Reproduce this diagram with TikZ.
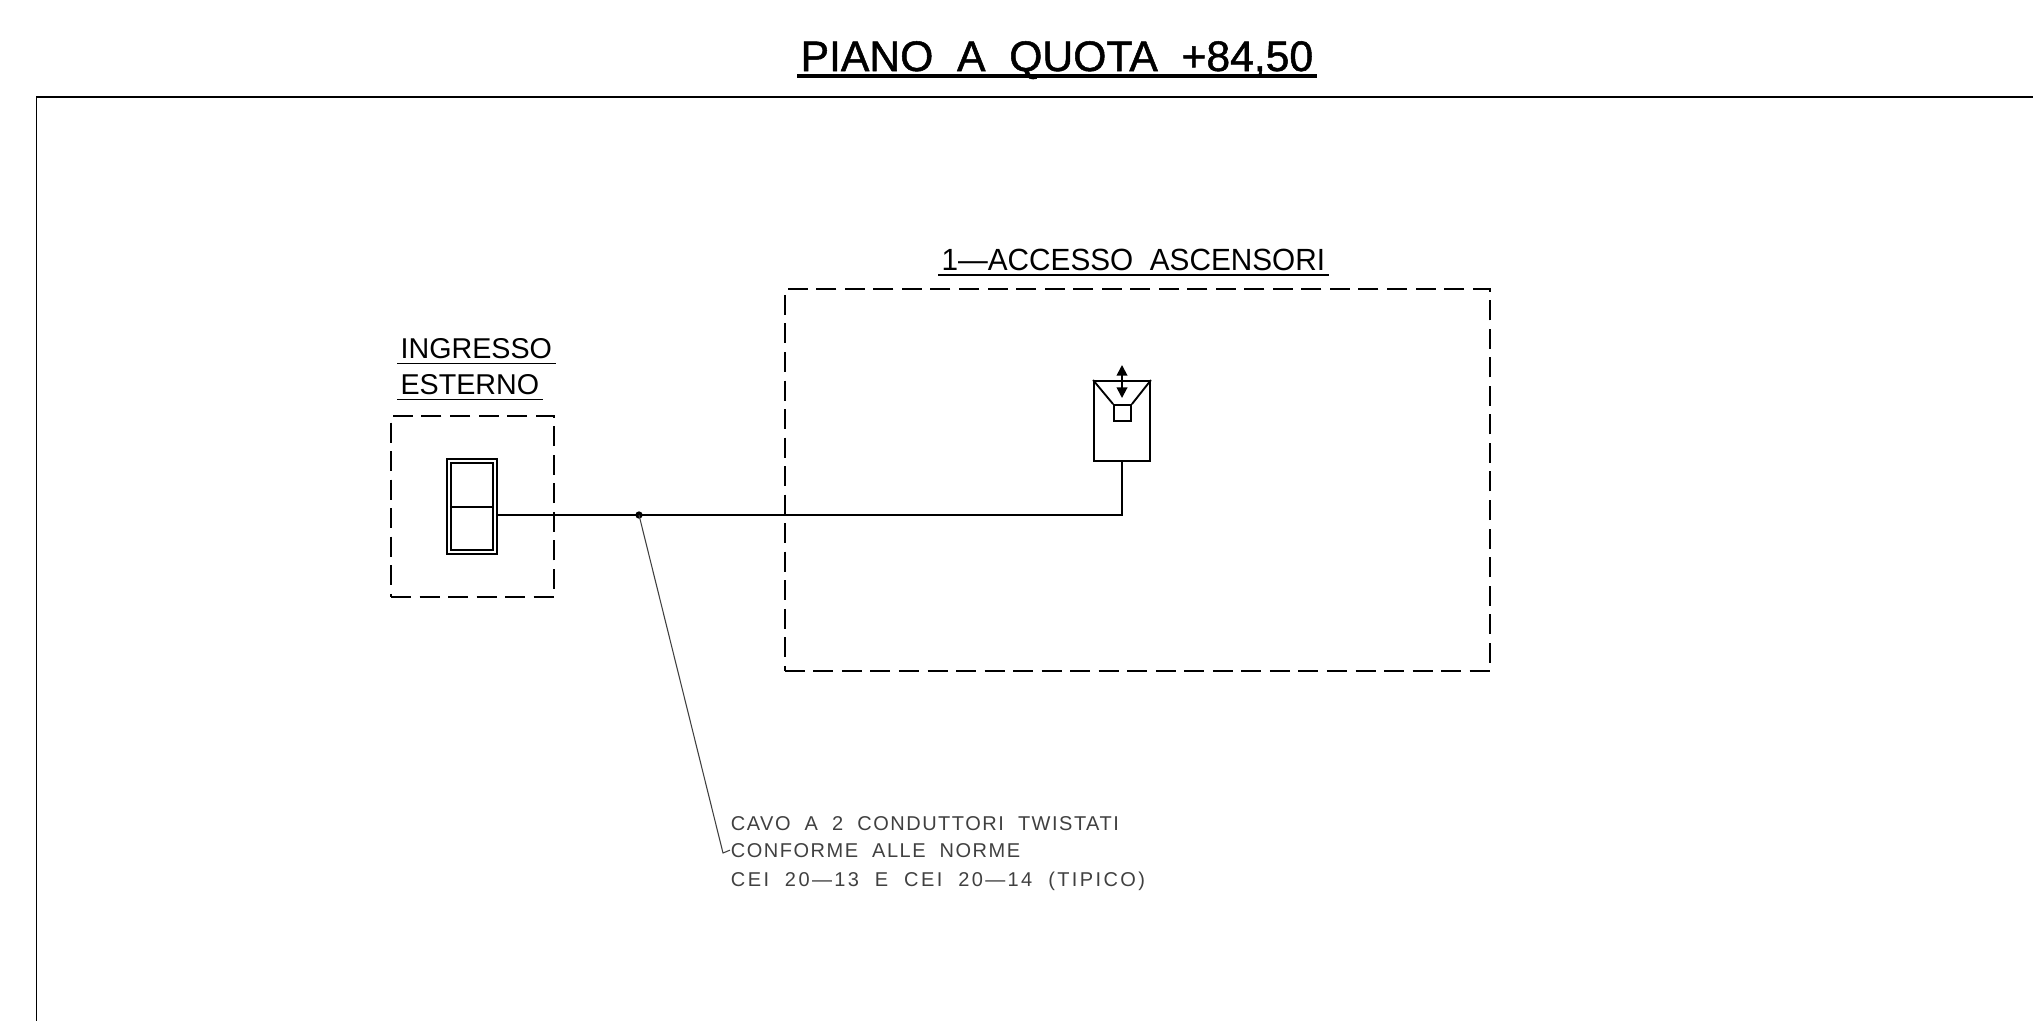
\documentclass[tikz,border=0pt]{standalone}
\usepackage{fontspec}
\setmainfont{Liberation Sans}
\newfontfamily\titlefont{Liberation Sans}[FakeBold=1.2]
\newfontfamily\roomfont{Liberation Sans}[FakeStretch=0.97]
\newfontfamily\notefont{Liberation Sans}[LetterSpace=7.5]
\newfontfamily\notewide{Liberation Sans}[LetterSpace=12]
\usepackage{xcolor}
\usetikzlibrary{positioning, arrows.meta}
\definecolor{leadgray}{gray}{0.25}
\tikzset{
  dashbox/.style={draw, dash pattern=on 15pt off 6.4pt, line width=1.4pt, inner sep=0pt},
  solidbox/.style={draw, line width=1.4pt, inner sep=0pt},
  heading/.style={anchor=base west, inner xsep=2pt, inner ysep=3pt, text depth=0pt},
  notetext/.style={anchor=base west, inner sep=0pt, text=leadgray, font=\notefont\fontsize{15}{15}\selectfont},
}
\begin{document}
\begin{tikzpicture}[x=0.75pt, y=-0.75pt, line width=1.4pt]
  \useasboundingbox (0,0) rectangle (2033,1021);
  % sheet frame
  \draw (2033,97) -- (36.5,97) -- (36.5,1021);
  % titles
  \node[heading, font=\titlefont\fontsize{32}{32}\selectfont] (title) at (797,71) {PIANO~~A~~QUOTA~~+84,50};
  \draw[line width=2.6pt] (title.south west) -- (title.south east);
  \node[heading, font=\roomfont\fontsize{23}{23}\selectfont] (room) at (938,270) {1—ACCESSO~~ASCENSORI};
  \draw (room.south west) -- (room.south east);
  \node[heading, font=\fontsize{21.5}{22}\selectfont] (entry1) at (397,358.5) {INGRESSO};
  \draw (entry1.south west) -- (entry1.south east);
  \node[heading, font=\fontsize{21.5}{22}\selectfont] (entry2) at (397,394.5) {ESTERNO};
  \draw (entry2.south west) -- (entry2.south east);
  % zones
  \node[dashbox, minimum width=122.25pt, minimum height=135.75pt] (entryzone) at (472.5,506.5) {};
  \node[dashbox, minimum width=529pt, minimum height=286pt] (liftzone) at (1137.5,480) {};
  % entry panel
  \node[solidbox, line width=1.7pt, minimum width=37.5pt, minimum height=71.25pt] (panel) at (472,506.6) {};
  \node[solidbox, line width=1.7pt, minimum width=31.5pt, minimum height=65.25pt] (panelin) at (panel) {};
  \draw (panelin.west) -- (panelin.east);
  % lift unit
  \node[solidbox, minimum width=42pt, minimum height=60pt] (lift) at (1122,421) {};
  \node[solidbox, minimum width=12.75pt, minimum height=12pt] (lens) at (1122.5,413) {};
  \draw (lift.north west) -- (lens.north west);
  \draw (lift.north east) -- (lens.north east);
  \coordinate (arrowtop) at (1122,365);
  \coordinate (arrowbot) at (1122,398);
  \draw[{Triangle[length=8pt,width=8pt]}-{Triangle[length=8pt,width=8pt]}] (arrowtop) -- (arrowbot);
  % wiring
  \node[circle, fill, inner sep=0pt, outer sep=0pt, minimum size=5.5pt] (splice) at (639,515) {};
  \draw (panel.east |- splice) -- (splice.center) -- (splice.center -| lift.south) -- (lift.south);
  % cable note
  \node[notetext] (note1) at (730,830) {CAVO~~A~~2~~CONDUTTORI~~TWISTATI};
  \node[notetext] (note2) at (730,857) {CONFORME~~ALLE~~NORME};
  \node[notetext, font=\notewide\fontsize{15}{15}\selectfont] (note3) at (730,886) {CEI~~20—13~~E~~CEI~~20—14~~(TIPICO)};
  \coordinate (bend) at (723,853);
  \draw[line width=0.8pt, leadgray] (splice.center) -- (bend) -- (note2.west);
\end{tikzpicture}
\end{document}
